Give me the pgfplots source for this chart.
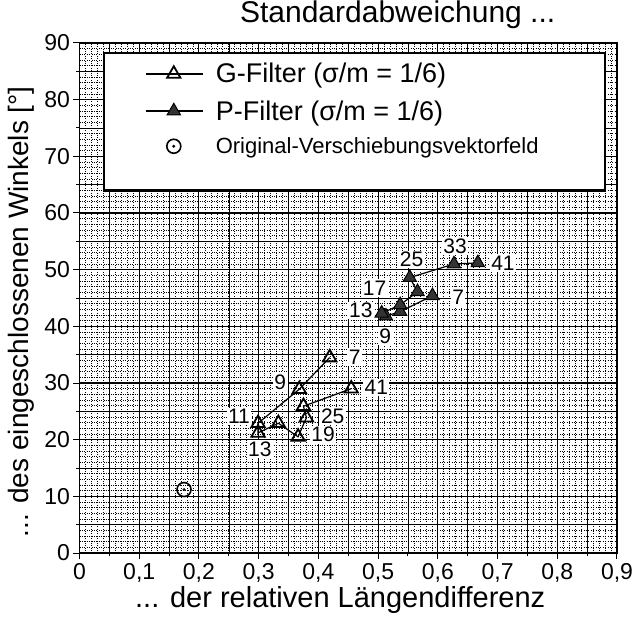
\documentclass[border=0pt]{standalone}
\usepackage{pgfplots}
\pgfplotsset{compat=1.18}
\usepackage{fontspec}
\setmainfont{Liberation Sans}
\pgfdeclareplotmark{odot}{%
  \pgfpathcircle{\pgfpoint{0pt}{0pt}}{\pgfplotmarksize}\pgfusepathqstroke
  \pgfpathcircle{\pgfpoint{0pt}{0pt}}{0.22\pgfplotmarksize}\pgfusepathqfill}
\newcommand{\fs}[1]{\fontsize{#1}{#1}\selectfont}
\pgfplotsset{
  linleg/.style={legend image code/.code={\path[draw=none,fill=none] (0pt,0pt) rectangle (68pt,0pt);\draw[mark repeat=2,mark phase=2,##1] plot coordinates {(0pt,0pt)(28pt,0pt)(57pt,0pt)};}},
  markleg/.style={legend image code/.code={\path[draw=none,fill=none] (0pt,0pt) rectangle (68pt,0pt);\draw[##1] plot[only marks] coordinates {(28pt,0pt)};}},
}
\begin{document}
\begin{tikzpicture}
\useasboundingbox (0,0) rectangle (637pt,619pt);
\begin{axis}[
  at={(79.5pt,66pt)}, anchor=south west,
  scale only axis, width=537.5pt, height=510pt,
  xmin=0, xmax=0.9, ymin=0, ymax=90,
  xtick={0,0.1,0.2,0.3,0.4,0.5,0.6,0.7,0.8,0.9},
  xticklabels={0,{0,1},{0,2},{0,3},{0,4},{0,5},{0,6},{0,7},{0,8},{0,9}},
  ytick={0,10,20,30,40,50,60,70,80,90},
  minor x tick num=9, minor y tick num=9,
  grid=both,
  major grid style={black, line width=1.1pt},
  minor grid style={black, dotted, line width=0.7pt},
  extra x ticks={0.05,0.15,0.25,0.35,0.45,0.55,0.65,0.75,0.85},
  extra x tick labels={},
  extra y ticks={5,15,25,35,45,55,65,75,85},
  extra y tick labels={},
  extra tick style={major grid style={black, line width=0.6pt}, major tick length=3pt},
  tick align=outside, xtick pos=left, ytick pos=left,
  major tick length=6pt, minor tick length=0pt,
  tick style={black, line width=1pt},
  axis line style={line width=1.6pt},
  ticklabel style={font=\fs{23}},
  xticklabel style={yshift=-1pt},
  /pgf/number format/assume math mode=true,
  xlabel={... der relativen Längendifferenz},
  ylabel={... des eingeschlossenen Winkels [°]},
  xlabel style={font=\fs{29}, at={(axis description cs:0.485,-0.092)}, anchor=center},
  ylabel style={font=\fs{28}, at={(axis description cs:-0.108,0.473)}, anchor=center},
  title={Standardabweichung ...},
  title style={font=\fs{30}, inner sep=0pt, at={(axis description cs:0.592,1.029)}, anchor=base},
  clip=false,
  legend style={at={(axis cs:0.041,88.2)}, anchor=north west, draw=none, fill=none,
    inner xsep=41pt, inner ysep=8pt, row sep=12pt, font=\fs{27}, cells={anchor=west}},
]
% legend box
\draw[line width=2.6pt, fill=white] (axis cs:0.041,88.2) rectangle (axis cs:0.88,64);

\addplot[black, line width=1.2pt, mark=triangle, mark size=7.7pt,
  mark options={solid, line width=1.8pt, fill=white}, linleg]
  coordinates {
  (0.419,34.5) (0.368,28.9) (0.299,22.9) (0.299,21.2) (0.333,22.9)
  (0.366,20.5) (0.380,23.9) (0.375,25.9) (0.455,29.0)
  };
\addlegendentry{G-Filter (σ/m = 1/6)}

\addplot[black, line width=1.2pt, mark=triangle*, mark size=7.7pt,
  mark options={solid, line width=1pt, fill=black!80}, linleg]
  coordinates {
  (0.591,45.4) (0.537,42.6) (0.513,41.8) (0.506,42.3) (0.537,43.8)
  (0.566,46.1) (0.553,48.6) (0.627,51.0) (0.667,51.2)
  };
\addlegendentry{P-Filter (σ/m = 1/6)}

\addplot[black, only marks, mark=odot, mark size=7pt, mark options={line width=1.6pt}, markleg]
  coordinates {(0.175,11.2)};
\addlegendentry{\fs{22}Original-Verschiebungsvektorfeld}

% data labels
\tikzset{lbl/.style={fill=white, inner sep=1.5pt, font=\fs{21}}}
\node[lbl] at (axis cs:0.461,34.6) {7};
\node[lbl] at (axis cs:0.336,30.2) {9};
\node[lbl] at (axis cs:0.497,29.2) {41};
\node[lbl] at (axis cs:0.424,24.2) {25};
\node[lbl] at (axis cs:0.408,20.9) {19};
\node[lbl] at (axis cs:0.267,24.1) {11};
\node[lbl] at (axis cs:0.302,18.3) {13};
\node[lbl] at (axis cs:0.709,51.2) {41};
\node[lbl] at (axis cs:0.629,54.2) {33};
\node[lbl] at (axis cs:0.556,51.8) {25};
\node[lbl] at (axis cs:0.634,45.2) {7};
\node[lbl] at (axis cs:0.494,46.8) {17};
\node[lbl] at (axis cs:0.471,42.8) {13};
\node[lbl] at (axis cs:0.512,38.3) {9};
\end{axis}
\end{tikzpicture}
\end{document}
